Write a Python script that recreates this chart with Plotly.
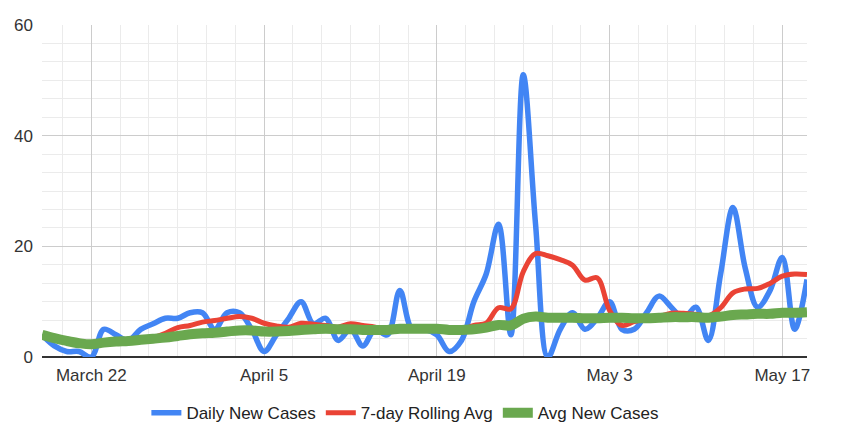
import plotly.graph_objects as go
import pandas as pd

# Dates: March 18 .. May 19, 2020 (63 days)
dates = pd.date_range("2020-03-18", "2020-05-19", freq="D").strftime("%Y-%m-%d").tolist()

daily_new_cases = [4, 2, 1, 1, 0, 5, 4, 3, 5, 6,
                   7, 7, 8, 8, 5, 8, 8, 5, 1, 4,
                   7, 10, 6, 7, 3, 5, 2, 5, 4, 12,
                   5, 5, 4, 1, 3, 10, 15, 24, 4, 51,
                   24, 0, 5, 8, 5, 7, 10, 5, 5, 8,
                   11, 9, 7, 9, 3, 15, 27, 16, 9, 12,
                   18, 5, 14]

rolling_avg_7day = [None, None, None, None, None, None, 2.6, 2.8, 3.0, 3.5,
                    4.3, 5.3, 5.7, 6.3, 6.6, 7.0, 7.3, 7.0, 6.1, 5.6,
                    5.4, 6.1, 5.9, 5.7, 5.4, 6.0, 5.7, 5.4, 4.6, 5.4,
                    5.1, 5.4, 5.3, 5.1, 4.9, 5.7, 6.1, 8.9, 8.7, 15.4,
                    18.7, 18.3, 17.6, 16.6, 13.9, 14.3, 8.4, 5.7, 6.4, 6.9,
                    7.3, 7.9, 7.9, 7.7, 7.4, 8.9, 11.6, 12.3, 12.4, 13.3,
                    14.6, 15.0, 14.9]

avg_new_cases = [4.0, 3.4, 2.9, 2.5, 2.3, 2.6, 2.8, 2.9, 3.1, 3.3,
                 3.5, 3.8, 4.1, 4.3, 4.4, 4.6, 4.8, 4.8, 4.6, 4.6,
                 4.7, 4.9, 5.0, 5.1, 5.0, 5.0, 4.9, 4.9, 4.9, 5.1,
                 5.1, 5.1, 5.1, 4.9, 4.9, 5.0, 5.3, 5.8, 5.7, 6.9,
                 7.3, 7.1, 7.1, 7.1, 7.0, 7.0, 7.1, 7.1, 7.0, 7.0,
                 7.1, 7.2, 7.2, 7.2, 7.1, 7.3, 7.6, 7.7, 7.8, 7.8,
                 8.0, 8.0, 8.1]

x_tick_vals = ["2020-03-22", "2020-04-05", "2020-04-19", "2020-05-03", "2020-05-17"]
x_tick_text = ["March 22", "April 5", "April 19", "May 3", "May 17"]
y_tick_vals = [0, 20, 40, 60]

FONT = "Arial, Liberation Sans, sans-serif"

fig = go.Figure()
fig.add_trace(go.Scatter(x=dates, y=daily_new_cases, name="Daily New Cases", mode="lines",
                         line=dict(color="#4285F4", width=5.5, shape="spline", smoothing=1.0)))
fig.add_trace(go.Scatter(x=dates, y=rolling_avg_7day, name="7-day Rolling Avg", mode="lines",
                         line=dict(color="#EA4335", width=5, shape="spline", smoothing=1.0)))
fig.add_trace(go.Scatter(x=dates, y=avg_new_cases, name="Avg New Cases", mode="lines",
                         line=dict(color="#6AA84F", width=10, shape="spline", smoothing=1.0)))

# Page body has an 8px margin, so the figure is 834x416 and sits at (8, 8).
fig.update_layout(
    width=834, height=416,
    margin=dict(l=34, r=35, t=17, b=67, autoexpand=False),
    paper_bgcolor="white", plot_bgcolor="white",
    font=dict(family=FONT, size=17, color="#333333"),
    showlegend=True,
    legend=dict(orientation="h", x=0.475, xanchor="center",
                y=-0.169, yanchor="middle",
                font=dict(size=17, color="#222222"), itemwidth=30,
                bgcolor="rgba(0,0,0,0)"),
)

fig.update_xaxes(
    type="date",
    range=["2020-03-18", "2020-05-19"],
    tickmode="array", tickvals=x_tick_vals, ticktext=x_tick_text,
    showgrid=True, gridcolor="#cccccc", gridwidth=1,
    ticks="", ticklabelstandoff=6,
    tickfont=dict(size=17, color="#333333"),
    minor=dict(tickmode="linear", tick0="2020-03-22", dtick=14 * 86400000 / 6,
               showgrid=True, gridcolor="#ebebeb", gridwidth=1),
    zeroline=False, showline=False,
)

fig.update_yaxes(
    range=[0, 60],
    tickmode="array", tickvals=y_tick_vals,
    showgrid=True, gridcolor="#cccccc", gridwidth=1,
    ticks="", ticklabelstandoff=8,
    tickfont=dict(size=17, color="#333333"),
    minor=dict(tickmode="linear", tick0=0, dtick=20 / 6,
               showgrid=True, gridcolor="#ebebeb", gridwidth=1),
    zeroline=True, zerolinecolor="#333333", zerolinewidth=1.5,
    showline=False,
)

fig.write_html("out.html")
